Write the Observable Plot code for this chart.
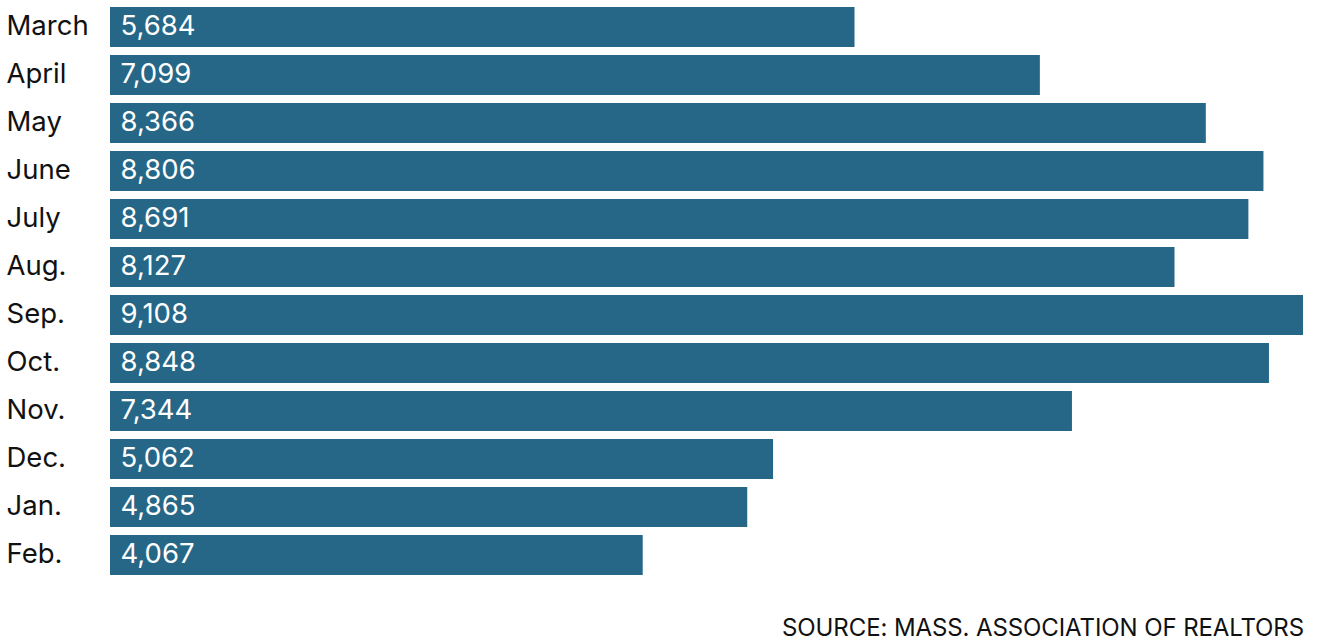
<!DOCTYPE html>
<html>
<head>
<meta charset="utf-8">
<script src="https://cdn.jsdelivr.net/npm/d3@7"></script>
<script src="https://cdn.jsdelivr.net/npm/@observablehq/plot@0.6"></script>
<style>
  html, body { margin: 0; padding: 0; background: #fff; }
  #wrap { position: relative; width: 1328px; height: 644px; font-family: Inter, "Noto Sans", sans-serif; }
  #caption { position: absolute; right: 24px; top: 613px; font-size: 24px; color: #111; line-height: 30px; letter-spacing: -0.1px; }
</style>
</head>
<body>
<div id="wrap">
  <div id="chart"></div>
  <div id="caption">SOURCE: MASS. ASSOCIATION OF REALTORS</div>
</div>
<script>
const months = ["March", "April", "May", "June", "July", "Aug.", "Sep.", "Oct.", "Nov.", "Dec.", "Jan.", "Feb."];
const sales = [5684, 7099, 8366, 8806, 8691, 8127, 9108, 8848, 7344, 5062, 4865, 4067];

const data = months.map((m, i) => ({month: m, value: sales[i]}));
const fmt = d3.format(",");

const chart = Plot.plot({
  width: 1328,
  height: 600,
  marginLeft: 110,
  marginRight: 25,
  marginTop: 3,
  marginBottom: 21,
  style: {fontFamily: "Inter, 'Noto Sans', sans-serif", fontSize: "27px", color: "#111"},
  x: {domain: [0, d3.max(sales)], axis: null},
  y: {domain: months, paddingInner: 1/6, paddingOuter: 1/12, axis: null},
  marks: [
    Plot.barX(data, {x: "value", y: "month", fill: "#266788"}),
    Plot.text(data, {y: "month", text: "month", frameAnchor: "left", textAnchor: "start", dx: -104, dy: -1, fill: "#111", fontSize: 27.5}),
    Plot.text(data, {y: "month", text: d => fmt(d.value), frameAnchor: "left", textAnchor: "start", dx: 10, dy: -1, fill: "#fff", fontSize: 27.5, letterSpacing: "0.6px"})
  ]
});
document.getElementById("chart").appendChild(chart);
</script>
</body>
</html>
